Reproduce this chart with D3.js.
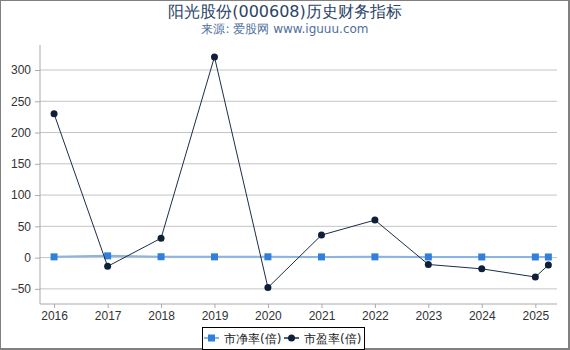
<!DOCTYPE html>
<html>
<head>
<meta charset="utf-8">
<script src="https://cdn.jsdelivr.net/npm/d3@7.9.0/dist/d3.min.js"></script>
<style>
  body { margin: 0; background: #fff; }
  svg { display: block; font-family: "DejaVu Sans", sans-serif; }
</style>
</head>
<body>
<svg id="chart" width="570" height="350"></svg>
<script>
const dates = ['2016-01-01', '2017-01-01', '2018-01-01', '2019-01-01', '2020-01-01',
  '2021-01-01', '2022-01-01', '2023-01-01', '2024-01-01', '2025-01-01', '2025-03-31'];
const pbValues = [1.2, 2.8, 1.4, 1.2, 1.3, 1.1, 1.2, 1.1, 1.0, 1.0, 1.0];
const peValues = [230, -14, 31, 321, -48, 36, 60, -11, -18, -31, -12];
const seriesNames = ['市净率(倍)', '市盈率(倍)'];
const yTicks = [-50, 0, 50, 100, 150, 200, 250, 300];

const parse = d3.timeParse('%Y-%m-%d');
const pb = dates.map((d, i) => ({ date: parse(d), value: pbValues[i] }));
const pe = dates.map((d, i) => ({ date: parse(d), value: peValues[i] }));

const svg = d3.select('#chart');
const plotLeft = 40, plotRight = 557, plotTop = 45, plotBottom = 302;

// frame
svg.append('rect').attr('width', 570).attr('height', 350).attr('fill', '#808080');
svg.append('rect').attr('x', 1).attr('y', 1).attr('width', 567).attr('height', 347).attr('fill', '#fff');

svg.append('text').attr('x', 285).attr('y', 17).attr('text-anchor', 'middle')
  .attr('font-size', 16).attr('fill', '#2a4466').text('阳光股份(000608)历史财务指标');
svg.append('text').attr('x', 285).attr('y', 33).attr('text-anchor', 'middle')
  .attr('font-size', 12).attr('fill', '#4d6f9c').text('来源: 爱股网 www.iguuu.com');

const x = d3.scaleTime()
  .domain([parse('2015-09-27'), parse('2025-05-29')])
  .range([plotLeft, plotRight]);
const y = d3.scaleLinear().domain([-71, 340]).range([plotBottom, plotTop]);

// grid
svg.append('g').selectAll('line').data(yTicks).join('line')
  .attr('x1', plotLeft).attr('x2', plotRight)
  .attr('y1', d => y(d)).attr('y2', d => y(d))
  .attr('stroke', '#c4c4c4').attr('stroke-width', 1);

// y axis
const yAxis = svg.append('g').attr('transform', `translate(${plotLeft},0)`)
  .call(d3.axisLeft(y).tickValues(yTicks).tickSize(5).tickPadding(4));
yAxis.select('.domain').attr('stroke', '#aaa').attr('d', `M0,${plotTop}V${plotBottom + 2}`);
yAxis.selectAll('.tick line').attr('stroke', '#aaa');
yAxis.selectAll('text').attr('font-size', 12).attr('fill', '#333');

// x axis
const xTicks = d3.range(2016, 2026).map(yr => new Date(yr, 0, 1));
const xAxis = svg.append('g').attr('transform', `translate(0,${plotBottom + 2})`)
  .call(d3.axisBottom(x).tickValues(xTicks).tickFormat(d3.timeFormat('%Y')).tickSize(4).tickPadding(3));
xAxis.select('.domain').attr('stroke', '#aaa').attr('d', `M${plotLeft},0H${plotRight}`);
xAxis.selectAll('.tick line').attr('stroke', '#aaa');
xAxis.selectAll('text').attr('font-size', 12).attr('fill', '#333');

const line = d3.line().x(d => x(d.date)).y(d => y(d.value));

// PB series
svg.append('path').datum(pb).attr('d', line)
  .attr('fill', 'none').attr('stroke', '#8ab4e4').attr('stroke-width', 2);
svg.append('g').selectAll('rect').data(pb).join('rect')
  .attr('x', d => x(d.date) - 3.5).attr('y', d => y(d.value) - 3.5)
  .attr('width', 7).attr('height', 7).attr('fill', '#2f80dc');

// PE series
svg.append('path').datum(pe).attr('d', line)
  .attr('fill', 'none').attr('stroke', '#1c2e48').attr('stroke-width', 1);
svg.append('g').selectAll('circle').data(pe).join('circle')
  .attr('cx', d => x(d.date)).attr('cy', d => y(d.value))
  .attr('r', 3.5).attr('fill', '#0f1f38');

// legend
const lg = svg.append('g');
lg.append('rect').attr('x', 202.5).attr('y', 327.5).attr('width', 162).attr('height', 22)
  .attr('fill', '#fff').attr('stroke', '#000').attr('stroke-width', 1);
lg.append('line').attr('x1', 204).attr('x2', 219).attr('y1', 338).attr('y2', 338)
  .attr('stroke', '#8ab4e4').attr('stroke-width', 2);
lg.append('rect').attr('x', 208).attr('y', 334.5).attr('width', 7).attr('height', 7).attr('fill', '#2f80dc');
lg.append('text').attr('x', 224).attr('y', 342.5).attr('font-size', 12).attr('fill', '#222').text(seriesNames[0]);
lg.append('line').attr('x1', 284).attr('x2', 299).attr('y1', 338).attr('y2', 338)
  .attr('stroke', '#1c2e48').attr('stroke-width', 1.5);
lg.append('circle').attr('cx', 291.5).attr('cy', 338).attr('r', 3.5).attr('fill', '#0f1f38');
lg.append('text').attr('x', 304).attr('y', 342.5).attr('font-size', 12).attr('fill', '#222').text(seriesNames[1]);
</script>
</body>
</html>
